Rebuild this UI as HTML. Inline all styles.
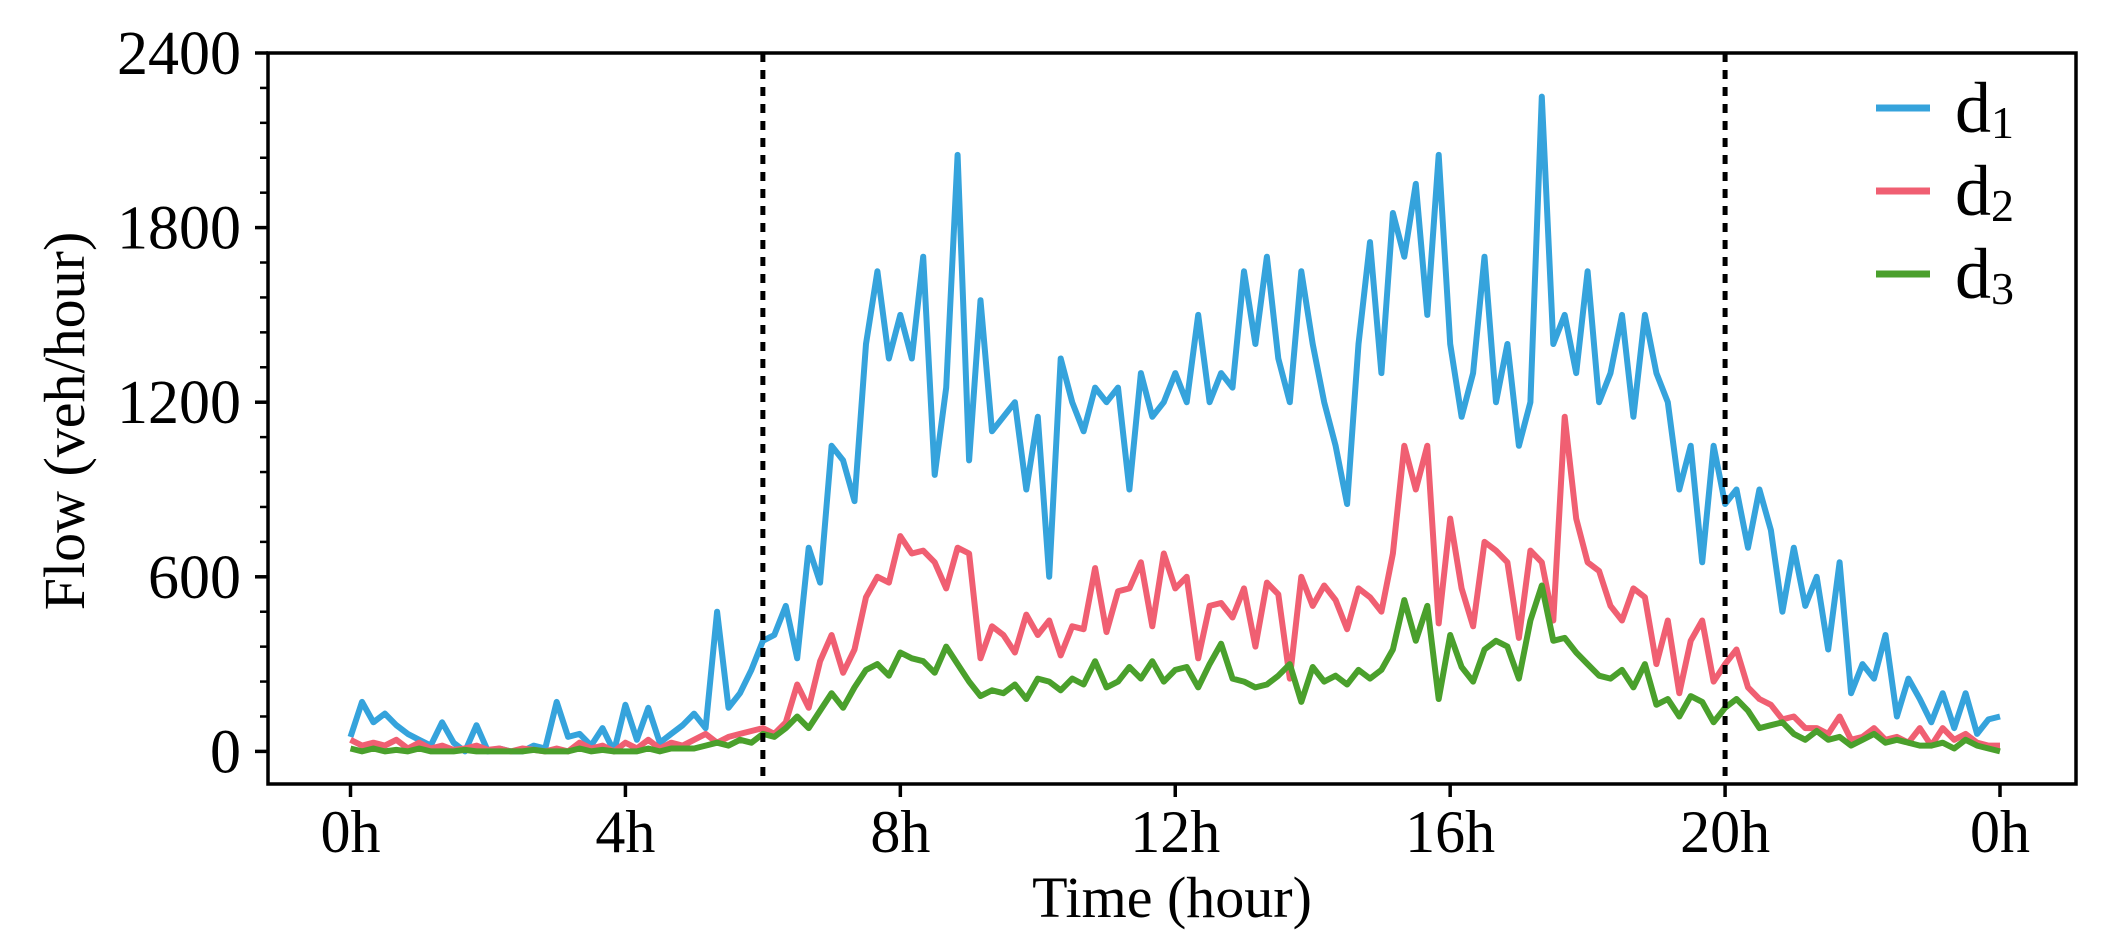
<!DOCTYPE html>
<html><head><meta charset="utf-8"><style>
html,body{margin:0;padding:0;background:#fff;}
svg{display:block;font-family:"Liberation Serif",serif;}
</style></head><body>
<svg id="chart" width="2102" height="944" viewBox="0 0 2102 944" xmlns="http://www.w3.org/2000/svg"></svg>
<script>
const hoursTicks=[0,4,8,12,16,20,24];
const xTickLabels=["0h","4h","8h","12h","16h","20h","0h"];
const yTicks=[0,600,1200,1800,2400];
const yTickLabels=["0","600","1200","1800","2400"];
const yMinorStep=120;
const dashedHours=[6,20];
const d1=[50,170,100,130,90,60, 40,20,100,30,0,90, 0,10,0,0,20,10, 170,50,60,20,80,0, 160,40,150,30,60,90, 130,80,480,150,200,280,
380,400,500,320,700,580, 1050,1000,860,1400,1650,1350, 1500,1350,1700,950,1250,2050, 1000,1550,1100,1150,1200,900, 1150,600,1350,1200,1100,1250, 1200,1250,900,1300,1150,1200,
1300,1200,1500,1200,1300,1250, 1650,1400,1700,1350,1200,1650, 1400,1200,1050,850,1400,1750, 1300,1850,1700,1950,1500,2050, 1400,1150,1300,1700,1200,1400, 1050,1200,2250,1400,1500,1300,
1650,1200,1300,1500,1150,1500, 1300,1200,900,1050,650,1050, 850,900,700,900,760,480, 700,500,600,350,650,200, 300,250,400,120,250,180, 100,200,80,200,60,110, 120];
const d2=[40,20,30,20,40,10, 30,10,20,5,10,20, 5,10,0,10,5,0, 10,0,30,10,20,0, 30,10,40,10,30,20, 40,60,30,50,60,70,
80,60,100,230,150,310, 400,270,350,530,600,580, 740,680,690,650,560,700, 680,320,430,400,340,470, 400,450,330,430,420,630, 410,550,560,650,430,680,
560,600,320,500,510,460, 560,360,580,540,250,600, 500,570,520,420,560,530, 480,680,1050,900,1050,440, 800,560,430,720,690,650, 390,690,650,450,1150,800,
650,620,500,450,560,530, 300,450,200,380,450,240, 300,350,220,180,160,110, 120,80,80,60,120,40, 50,80,40,50,30,80, 20,80,40,60,30,20, 20];
const d3=[10,0,10,0,5,0, 10,0,0,0,5,0, 0,0,0,0,5,0, 0,0,10,0,5,0, 0,0,10,0,10,10, 10,20,30,20,40,30,
60,50,80,120,80,140, 200,150,220,280,300,260, 340,320,310,270,360,300, 240,190,210,200,230,180, 250,240,210,250,230,310, 220,240,290,250,310,240,
280,290,220,300,370,250, 240,220,230,260,300,170, 290,240,260,230,280,250, 280,350,520,380,500,180, 400,290,240,350,380,360, 250,450,570,380,390,340,
300,260,250,280,220,300, 160,180,120,190,170,100, 150,180,140,80,90,100, 60,40,70,40,50,20, 40,60,30,40,30,20, 20,30,10,40,20,10, 0];
const seriesNames=["d1","d2","d3"];
const seriesColors=["#35a3dc","#f05f72","#4aa02c"];

const L=268,R=2076,T=53,B=784;
const X0=350.5,X24=2000, Y0=751.4, Y2400=53;
const xs=h=>X0+(X24-X0)*h/24;
const ys=v=>Y0+(Y2400-Y0)*v/2400;
const NS="http://www.w3.org/2000/svg";
const svg=document.getElementById('chart');
function mk(tag,attrs,parent){const e=document.createElementNS(NS,tag);for(const k in attrs)e.setAttribute(k,attrs[k]);(parent||svg).appendChild(e);return e;}

[d1,d2,d3].forEach((arr,si)=>{
  const n=arr.length;
  const pts=arr.map((v,i)=>xs(i*24/(n-1)).toFixed(1)+","+ys(v).toFixed(1)).join(" ");
  const p=mk('polyline',{points:pts,fill:"none",stroke:seriesColors[si],"stroke-width":6,"stroke-linejoin":"round"});
  
  
});
dashedHours.forEach(h=>{
  const l=mk('line',{x1:xs(h),x2:xs(h),y1:T,y2:B,stroke:"#000","stroke-width":5,"stroke-dasharray":"9 8"});
  
  
});
const fr=mk('rect',{x:L,y:T,width:R-L,height:B-T,fill:"none",stroke:"#000","stroke-width":3.5});


hoursTicks.forEach((h,i)=>{
  const t=mk('line',{x1:xs(h),x2:xs(h),y1:B,y2:B+13,stroke:"#000","stroke-width":3.5});
  
  
  const tx=mk('text',{x:xs(h),y:852,"text-anchor":"middle","font-size":60});
  tx.textContent=xTickLabels[i];
  
  
});
for(let v=0;v<=2400;v+=yMinorStep){
  const t=mk('line',{x1:L-8,x2:L,y1:ys(v),y2:ys(v),stroke:"#000","stroke-width":2.5});
  
  
}
yTicks.forEach((v,i)=>{
  const t=mk('line',{x1:L-13,x2:L,y1:ys(v),y2:ys(v),stroke:"#000","stroke-width":3.5});
  
  
  const tx=mk('text',{x:241,y:ys(v)+21,"text-anchor":"end","font-size":62});
  tx.textContent=yTickLabels[i];
  
  
});
const xt=mk('text',{x:1172,y:917,"text-anchor":"middle","font-size":58});
xt.textContent="Time (hour)";


const yt=mk('text',{x:0,y:0,"text-anchor":"middle","font-size":58,transform:"translate(84,421) rotate(-90)"});
yt.textContent="Flow (veh/hour)";


const legY=[108,191,274];
seriesNames.forEach((nm,i)=>{
  const g=mk('g',{});
  
  
  mk('line',{x1:1876,x2:1930,y1:legY[i],y2:legY[i],stroke:seriesColors[i],"stroke-width":7},g);
  const t=mk('text',{x:1955,y:legY[i]+24,"font-size":72},g);
  t.textContent="d";
  const s=mk('tspan',{"font-size":46,dy:6},t);
  s.textContent=String(i+1);
});
</script>
</body></html>
